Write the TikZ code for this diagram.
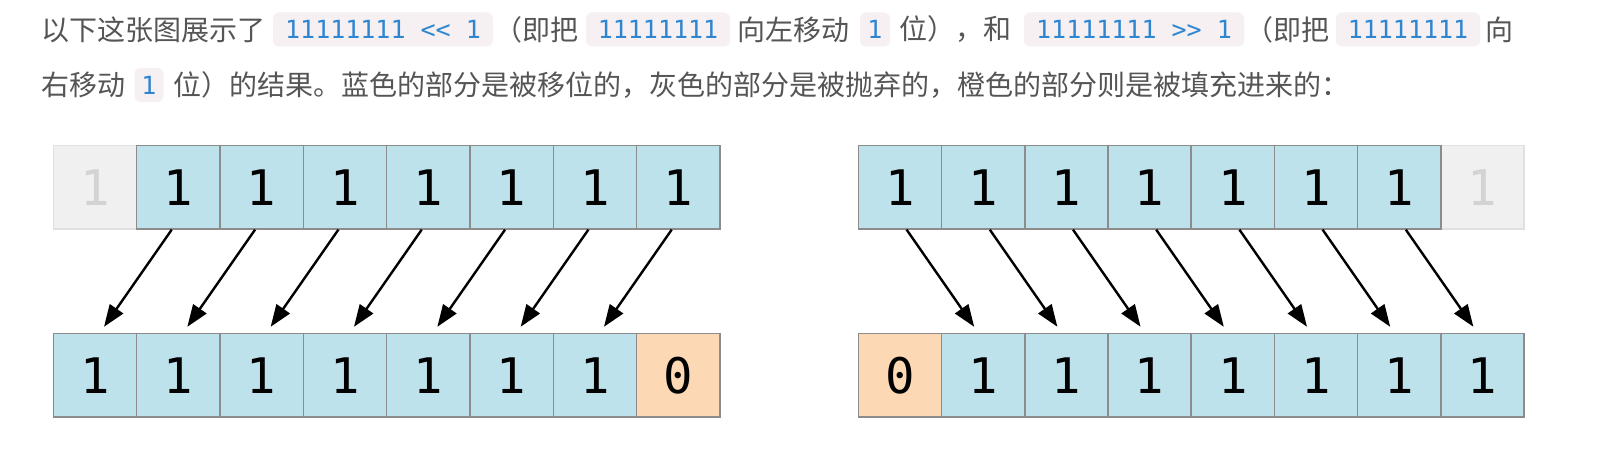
\documentclass[tikz,border=0pt]{standalone}
\usepackage{fontspec}
\newfontfamily\cjk{Noto Sans CJK SC}
\newfontfamily\dmono{DejaVu Sans Mono}
\usetikzlibrary{arrows.meta}
\definecolor{cellblue}{HTML}{BDE2EC}
\definecolor{cellorange}{HTML}{FDD8B5}
\definecolor{cellgray}{HTML}{F0F0F0}
\definecolor{graylinec}{HTML}{E0E0E0}
\definecolor{graytext}{HTML}{D3D3D3}
\definecolor{cellline}{HTML}{8C8C8C}
\definecolor{bodytext}{HTML}{555555}
\definecolor{codebg}{HTML}{F6F0F3}
\definecolor{codeblue}{HTML}{2E86D1}
\begin{document}
\begin{tikzpicture}[x=0.5pt,y=-0.5pt,
  cell/.style={draw=cellline, line width=0.75pt, minimum width=41.65pt, minimum height=41.65pt, inner sep=0pt, font=\dmono\fontsize{24.5}{24.5}\selectfont, text=black},
  bluecell/.style={cell, fill=cellblue},
  orangecell/.style={cell, fill=cellorange},
  graycell/.style={cell, fill=cellgray, draw=graylinec, text=graytext},
  arr/.style={line width=1.2pt, -{Triangle[length=11pt,width=8pt]}},
  txt/.style={anchor=west, inner sep=0pt, text=bodytext, font=\cjk\fontsize{14}{14}\selectfont},
  codebox/.style={fill=codebg, rounded corners=3pt, inner sep=0pt, minimum height=17pt, text=codeblue, font=\dmono\fontsize{12.5}{12.5}\selectfont}
]
\useasboundingbox (0,0) rectangle (1618,458);
\fill[white] (0,0) rectangle (1618,458);

% text line 1
\node[txt] (t1) at (41,29.5) {以下这张图展示了};
\node[codebox, minimum width=110pt] (c1) at (383,29.5) {11111111 << 1};
\node[txt] (t2) at (494,29.5) {（即把};
\node[codebox, minimum width=72pt] (c2) at (658,29.5) {11111111};
\node[txt] (t3) at (737,29.5) {向左移动};
\node[codebox, minimum width=15pt] (c3) at (875,29.5) {1};
\node[txt] (t4) at (899,29.5) {位），和};
\node[codebox, minimum width=110pt] (c4) at (1134,29.5) {11111111 >> 1};
\node[txt] (t5) at (1245,29.5) {（即把};
\node[codebox, minimum width=72pt] (c5) at (1408,29.5) {11111111};
\node[txt] (t6) at (1485,29.5) {向};
% text line 2
\node[txt] (t7) at (41,85) {右移动};
\node[codebox, minimum width=14.5pt] (c6) at (149,85) {1};
\node[txt] (t8) at (173,85) {位）的结果。蓝色的部分是被移位的，灰色的部分是被抛弃的，橙色的部分则是被填充进来的：};

% left diagram
\node[graycell] (Lt0) at (95,187.25) {1};
\foreach \i in {1,...,7} {
  \node[bluecell] (Lt\i) at ({95+83.33*\i},187.25) {1};
}
\foreach \i in {0,...,6} {
  \node[bluecell] (Lb\i) at ({95+83.33*\i},375.2) {1};
}
\node[orangecell] (Lb7) at ({95+83.33*7},375.2) {0};
\foreach \i [evaluate=\i as \j using int(\i-1)] in {1,...,7} {
  \draw[arr] ([xshift=-3.3pt]Lt\i.south) -- ([xshift=4.5pt,yshift=3pt]Lb\j.north);
}

% right diagram
\node[graycell] (Rt7) at ({900+83.2*7},187.25) {1};
\foreach \i in {0,...,6} {
  \node[bluecell] (Rt\i) at ({900+83.2*\i},187.25) {1};
}
\node[orangecell] (Rb0) at (900,375.2) {0};
\foreach \i in {1,...,7} {
  \node[bluecell] (Rb\i) at ({900+83.2*\i},375.2) {1};
}
\foreach \i [evaluate=\i as \j using int(\i+1)] in {0,...,6} {
  \draw[arr] ([xshift=3.3pt]Rt\i.south) -- ([xshift=-4.5pt,yshift=3pt]Rb\j.north);
}
\end{tikzpicture}
\end{document}
